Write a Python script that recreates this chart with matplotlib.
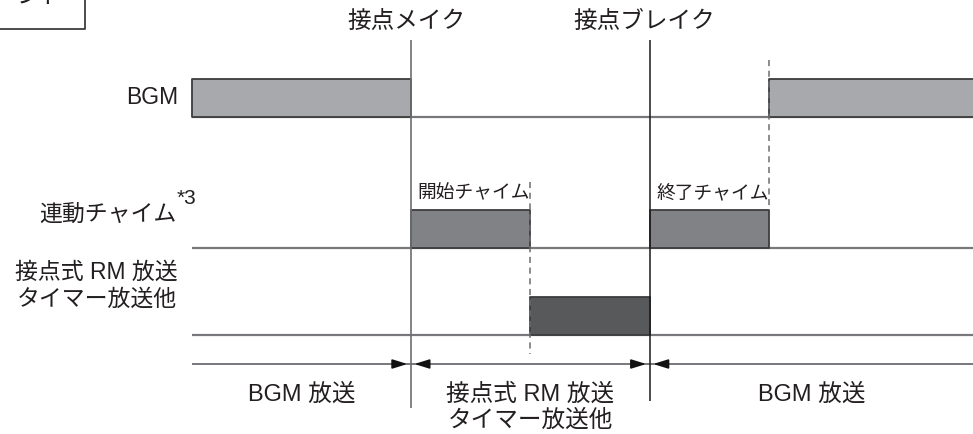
import matplotlib.pyplot as plt

plt.rcParams['font.family'] = ['Liberation Sans', 'Noto Sans CJK JP']

# timing data (time units, 0 = start of the diagram)
signals = ['BGM', '連動チャイム', '接点式 RM 放送\nタイマー放送他']
bgm_on = [(0, 22), (58, 80)]
chime_on = [(22, 34), (46, 58)]
rm_on = [(34, 46)]
events = ['接点メイク', '接点ブレイク']
event_t = [22, 46]
chime_labels = ['開始チャイム', '終了チャイム']
periods = ['BGM 放送', '接点式 RM 放送\nタイマー放送他', 'BGM 放送']
period_bounds = [0, 22, 46, 80]
t_end = 80

# layout
W, H = 973, 434
px = 9.95                      # pixels per time unit
x0 = -192 / px                 # left edge of the figure in time units
row_base = [117, 248, 335]
bar_h = 38
arrow_y = 364
txt = '#231f20'
line_gray = '#77787b'
edge = '#3d3d3d'
fills = ['#a7a9ac', '#808285', '#58595b']

fig = plt.figure(figsize=(W / 100, H / 100), dpi=100)
ax = fig.add_axes([0, 0, 1, 1])
ax.set_xlim(x0, x0 + W / px)
ax.set_ylim(H, 0)
ax.axis('off')

# baselines
for base in row_base:
    ax.hlines(base, 0, t_end, color=line_gray, lw=1.6, zorder=1)

# signal bars
for spans, base, fc in zip([bgm_on, chime_on, rm_on], row_base, fills):
    ax.broken_barh([(a, b - a) for a, b in spans], (base - bar_h, bar_h),
                   facecolor=fc, edgecolor=edge, lw=1.3, zorder=2)

# event lines
ax.vlines(event_t[0], 40, 408, color='#6d6e71', lw=1.2, zorder=3)
ax.vlines(event_t[1], 40, 401, color='#1a1a1a', lw=1.1, zorder=3)
for name, t in zip(events, event_t):
    ax.text(t - 0.5, 22, name, ha='center', va='center', fontsize=17, color=txt)

# dashed ends of chimes
ax.vlines(chime_on[0][1], 182, 354, color='#6d6e71', lw=1.1, linestyles=(0, (4, 3)), zorder=3)
ax.vlines(chime_on[1][1], 60, 210, color='#6d6e71', lw=1.1, linestyles=(0, (4, 3)), zorder=3)

# chime names
for (a, b), name in zip(chime_on, chime_labels):
    ax.text(a + 0.7, 194, name, ha='left', va='center', fontsize=13.5, color=txt)

# row labels
lab_x = -1.4
ax.text(lab_x, 98, signals[0], ha='right', va='center', fontsize=16.5, color=txt)
ax.text(lab_x - 0.2, 214, signals[1], ha='right', va='center', fontsize=16.5, color=txt)
ax.text(lab_x - 0.1, 199, '*3', ha='left', va='center', fontsize=15, color=txt)
ax.text(lab_x, 286, signals[2], ha='right', va='center', fontsize=16.5,
        color=txt, multialignment='center', linespacing=1.2)

# period arrows
ax.hlines(arrow_y, 0, t_end, color=line_gray, lw=1.4, zorder=1)
hs = dict(arrowstyle='-|>,head_length=0.9,head_width=0.28', color='#111111',
          lw=1.2, shrinkA=0, shrinkB=0, mutation_scale=10)
for t in event_t:
    ax.annotate('', xy=(t - 0.35, arrow_y), xytext=(t - 1.6, arrow_y), arrowprops=hs)
    ax.annotate('', xy=(t + 0.35, arrow_y), xytext=(t + 1.6, arrow_y), arrowprops=hs)

for i, name in enumerate(periods):
    mid = (period_bounds[i] + min(period_bounds[i + 1], x0 + W / px)) / 2
    ax.text(mid, 383, name, ha='center', va='top', fontsize=17,
            color=txt, multialignment='center', linespacing=1.25)

# cut-off title box at top left
ax.plot([x0, 85 / px + x0, 85 / px + x0, x0], [-5, -5, 29, 29],
        color=edge, lw=1.3, clip_on=False)
ax.text(x0 + 40 / px, -3, 'ンド', ha='center', va='center', fontsize=17, color=txt)

fig.savefig('out.png', dpi=100)
